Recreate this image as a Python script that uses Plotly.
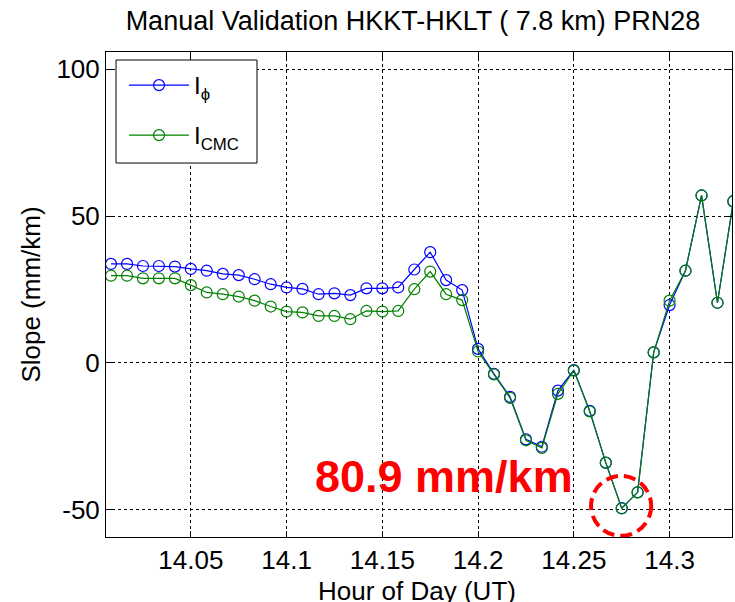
import plotly.graph_objects as go

# ---- data ----
hours = [14.0083, 14.0167, 14.0250, 14.0333, 14.0417, 14.0500, 14.0583, 14.0667,
         14.0750, 14.0833, 14.0917, 14.1000, 14.1083, 14.1167, 14.1250, 14.1333,
         14.1417, 14.1500, 14.1583, 14.1667, 14.1750, 14.1833, 14.1917, 14.2000,
         14.2083, 14.2167, 14.2250, 14.2333, 14.2417, 14.2500, 14.2583, 14.2667,
         14.2750, 14.2833, 14.2917, 14.3000, 14.3083, 14.3167, 14.3250, 14.3333]

slope_phi = [33.7, 33.7, 33.0, 33.0, 32.8, 32.0, 31.4, 30.3, 29.9, 28.5,
             26.8, 25.7, 25.2, 23.4, 23.7, 23.1, 25.4, 25.4, 25.7, 31.8,
             37.7, 28.2, 24.8, 4.8, -3.7, -11.5, -26.0, -28.5, -9.4, -2.4,
             -16.3, -33.9, -49.4, -44.0, 3.6, 19.7, 31.4, 57.0, 20.5, 55.0]

slope_cmc = [29.7, 29.7, 28.8, 28.8, 28.8, 26.5, 24.0, 23.4, 22.6, 21.2,
             19.2, 17.5, 17.2, 16.0, 16.0, 14.9, 17.7, 17.5, 17.7, 25.1,
             31.1, 23.4, 21.4, 3.9, -3.9, -11.9, -26.3, -28.9, -10.5, -2.6,
             -16.5, -34.0, -49.5, -44.0, 3.6, 21.2, 31.4, 57.0, 20.5, 55.0]

x_tickvals = [14.05, 14.1, 14.15, 14.2, 14.25, 14.3]
x_ticktext = ["14.05", "14.1", "14.15", "14.2", "14.25", "14.3"]
y_tickvals = [-50, 0, 50, 100]
y_ticktext = ["-50", "0", "50", "100"]

series_names = ["I<sub>ϕ</sub>", "I<sub>CMC</sub>"]
series_colors = ["#0000FF", "#008000"]

title_text = "Manual Validation HKKT-HKLT ( 7.8 km) PRN28"
x_title = "Hour of Day (UT)"
y_title = "Slope (mm/km)"
note_text = "80.9 mm/km"
note_pos = (14.1136, -38.5)
circle_center = (14.2747, -48.6)
circle_radius = (0.0157, 10.2)

FONT = "Liberation Sans, Arial, sans-serif"

fig = go.Figure()
for name, ys, col, lg in [(series_names[0], slope_phi, series_colors[0], "legend"),
                          (series_names[1], slope_cmc, series_colors[1], "legend2")]:
    fig.add_trace(go.Scatter(
        x=hours, y=ys, name=name, mode="lines+markers", legend=lg,
        line=dict(color=col, width=1.2),
        marker=dict(symbol="circle-open", size=11, color=col, line=dict(width=1.2, color=col)),
    ))

fig.add_annotation(
    x=note_pos[0], y=note_pos[1], xref="x", yref="y", text=note_text,
    showarrow=False, xanchor="left", yanchor="middle",
    font=dict(family=FONT, size=45, color="#FF0000", weight="bold"),
)

# x-axis title (placed as in the reference, partly below the page edge)
fig.add_annotation(
    x=0.4968, y=-0.1113, xref="paper", yref="paper", text=x_title,
    showarrow=False, xanchor="center", yanchor="middle",
    font=dict(family=FONT, size=26, color="black"),
)

fig.add_shape(
    type="circle", xref="x", yref="y",
    x0=circle_center[0] - circle_radius[0], x1=circle_center[0] + circle_radius[0],
    y0=circle_center[1] - circle_radius[1], y1=circle_center[1] + circle_radius[1],
    line=dict(color="#FF0000", width=4, dash="12px,6px"),
)

# legend frame
fig.add_shape(
    type="rect", xref="paper", yref="paper", layer="above",
    x0=0.016, x1=0.2412, y0=0.7711, y1=0.9835,
    line=dict(color="black", width=1), fillcolor="white",
)

axis_common = dict(
    showline=True, linecolor="black", linewidth=1, mirror="ticks",
    ticks="inside", ticklen=6, tickcolor="black", tickwidth=1,
    showgrid=True, gridcolor="black", gridwidth=1, griddash="dot",
    zeroline=False, automargin=False,
    tickfont=dict(family=FONT, size=26, color="black"),
)

legend_common = dict(
    xanchor="left", yanchor="top", bgcolor="rgba(0,0,0,0)", borderwidth=0,
    font=dict(family=FONT, size=24, color="black"), itemwidth=60,
)

fig.update_layout(
    width=735, height=602,
    margin=dict(l=106, r=3, t=52, b=65, autoexpand=False),
    paper_bgcolor="white", plot_bgcolor="white",
    font=dict(family=FONT, color="black"),
    title=dict(text=title_text, x=0.5619, xanchor="center", y=1 - 20.5 / 602, yanchor="middle",
               font=dict(family=FONT, size=27, color="black")),
    xaxis=dict(range=[14.0057, 14.3326], tickvals=x_tickvals, ticktext=x_ticktext,
               **axis_common),
    yaxis=dict(range=[-59.2, 105.8], tickvals=y_tickvals, ticktext=y_ticktext,
               title=dict(text=y_title, standoff=8, font=dict(family=FONT, size=26)),
               **axis_common),
    legend=dict(x=0.0288, y=0.9773, **legend_common),
    legend2=dict(x=0.0288, y=0.8742, **legend_common),
    showlegend=True,
)

fig.write_html("out.html", config={"displayModeBar": False},
               post_script="document.body.style.margin='0';document.documentElement.style.overflow='hidden';")
